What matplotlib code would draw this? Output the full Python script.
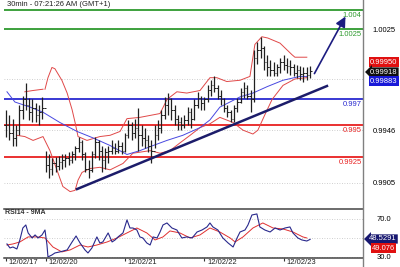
import matplotlib.pyplot as plt
import numpy as np
from matplotlib.lines import Line2D

plt.rcParams['font.family'] = ['Liberation Sans', 'DejaVu Sans']

# 30 min bars (one bar per hour of the original)
highs = [0.9962, 0.9958, 0.9955, 0.9950, 0.9966, 0.9973, 0.9983, 0.9971, 0.9970, 0.9967, 0.9966, 0.9972,
         0.9930, 0.9927, 0.9924, 0.9925, 0.9926, 0.9927, 0.9927, 0.9929, 0.9930, 0.9934, 0.9941, 0.9938,
         0.9929, 0.9923, 0.9930, 0.9941, 0.9938, 0.9934, 0.9932, 0.9934, 0.9938, 0.9936, 0.9938, 0.9937,
         0.9944, 0.9954, 0.9952, 0.9955, 0.9963, 0.9950, 0.9948, 0.9942, 0.9938, 0.9950,
         0.9954, 0.9962, 0.9972, 0.9975, 0.9971, 0.9966, 0.9958, 0.9956, 0.9958, 0.9964,
         0.9963, 0.9970, 0.9976,
         0.9973, 0.9972, 0.9981, 0.9985, 0.9988, 0.9981, 0.9977, 0.9971, 0.9966, 0.9962,
         0.9966, 0.9971, 0.9979, 0.9984, 0.9981, 0.9977, 1.0009, 1.0015, 1.0019, 1.0012,
         1.0005, 1.0001, 0.9999, 0.9998, 1.0002,
         1.0005, 1.0002, 1.0001, 0.9998, 0.9997, 0.9996, 0.9995, 0.9995, 0.9996]
lows = [0.9941, 0.9938, 0.9934, 0.9934, 0.9942, 0.9955, 0.9962, 0.9954, 0.9952, 0.9952, 0.9950, 0.9955,
        0.9913, 0.9909, 0.9911, 0.9913, 0.9915, 0.9916, 0.9917, 0.9919, 0.9920, 0.9923, 0.9929, 0.9923,
        0.9913, 0.9909, 0.9913, 0.9924, 0.9923, 0.9913, 0.9916, 0.9920, 0.9927, 0.9927, 0.9928, 0.9927,
        0.9929, 0.9940, 0.9938, 0.9940, 0.9930, 0.9934, 0.9932, 0.9929, 0.9920, 0.9932,
        0.9938, 0.9944, 0.9955, 0.9958, 0.9954, 0.9950, 0.9946, 0.9946, 0.9948, 0.9950,
        0.9948, 0.9954, 0.9963,
        0.9962, 0.9962, 0.9968, 0.9973, 0.9976, 0.9970, 0.9966, 0.9960, 0.9956, 0.9952,
        0.9952, 0.9960, 0.9967, 0.9971, 0.9970, 0.9960, 0.9968, 0.9998, 1.0002, 0.9993,
        0.9988, 0.9988, 0.9988, 0.9988, 0.9991,
        0.9993, 0.9991, 0.9989, 0.9988, 0.9987, 0.9985, 0.9984, 0.9985, 0.9987]
closes = [0.9950, 0.9944, 0.9940, 0.9946, 0.9962, 0.9970, 0.9966, 0.9960, 0.9963, 0.9958, 0.9960, 0.9963,
          0.9919, 0.9916, 0.9920, 0.9918, 0.9921, 0.9923, 0.9924, 0.9923, 0.9927, 0.9932, 0.9937, 0.9927,
          0.9916, 0.9915, 0.9927, 0.9937, 0.9930, 0.9923, 0.9929, 0.9930, 0.9932, 0.9930, 0.9934, 0.9930,
          0.9942, 0.9950, 0.9944, 0.9948, 0.9942, 0.9940, 0.9938, 0.9934, 0.9930, 0.9942,
          0.9948, 0.9958, 0.9966, 0.9970, 0.9962, 0.9955, 0.9952, 0.9950, 0.9954, 0.9960,
          0.9955, 0.9966, 0.9971,
          0.9967, 0.9970, 0.9977, 0.9981, 0.9979, 0.9973, 0.9970, 0.9963, 0.9960, 0.9955,
          0.9963, 0.9968, 0.9976, 0.9979, 0.9973, 0.9970, 1.0002, 1.0009, 1.0010, 0.9999,
          0.9995, 0.9993, 0.9991, 0.9995, 0.9999,
          0.9997, 0.9996, 0.9995, 0.9991, 0.9993, 0.9990, 0.9991, 0.9989, 0.9992]

# bollinger bands and moving average
bb_up_x = [11.8, 12.7, 13.9, 14.8, 16.9, 18.5, 20.0, 20.9, 21.8, 24.5, 28.4, 31.5, 34.5, 36.6, 40.5,
           46.6, 48.7, 51.7, 54.7, 58.7, 61.7, 63.8, 66.8, 70.8, 73.8, 75.3, 77.4, 79.2, 82.9, 86.5,
           87.4, 91.0]
bb_up = [0.9978, 0.9987, 0.9995, 0.9994, 0.9985, 0.9975, 0.9962, 0.9952, 0.9941, 0.9938, 0.9941,
         0.9942, 0.9945, 0.9955, 0.9956, 0.9959, 0.9970, 0.9976, 0.9975, 0.9977, 0.9987, 0.9987,
         0.9984, 0.9985, 0.9988, 1.0013, 1.0019, 1.0018, 1.0014, 1.0005, 1.0003, 1.0003]
bb_up0_x = [5.7, 8.2, 11.2]
bb_up0 = [0.9976, 0.9977, 0.9978]
bb_lo_x = [3.3, 5.7, 8.2, 11.2, 13.3, 15.4, 17.2, 19.4, 20.9, 21.8, 23.0, 25.4, 28.4, 31.5, 35.4,
           38.4, 43.6, 46.6, 49.6, 52.6, 55.7, 58.7, 61.7, 64.7, 68.7, 71.7, 74.7, 76.2, 78.3, 80.5,
           83.8, 87.4, 91.0]
bb_lo = [0.9942, 0.9941, 0.9938, 0.9941, 0.9930, 0.9915, 0.9902, 0.9898, 0.9899, 0.9907, 0.9913,
         0.9916, 0.9917, 0.9915, 0.9920, 0.9928, 0.9930, 0.9928, 0.9930, 0.9936, 0.9942, 0.9948,
         0.9951, 0.9956, 0.9952, 0.9946, 0.9943, 0.9946, 0.9958, 0.9970, 0.9981, 0.9986, 0.9987]
ma_x = [0.3, 2.7, 7.3, 11.2, 16.3, 21.5, 26.3, 31.5, 36.6, 40.5, 44.5, 48.7, 53.5, 58.7, 61.7,
        64.7, 70.8, 74.7, 79.0, 83.8, 88.9, 91.0]
ma = [0.9976, 0.9968, 0.9964, 0.9960, 0.9952, 0.9945, 0.9940, 0.9934, 0.9927, 0.9930, 0.9934,
      0.9938, 0.9942, 0.9948, 0.9954, 0.9964, 0.9972, 0.9975, 0.9980, 0.9985, 0.9988, 0.9988]

# rsi 14 and its 9 period average
rsi_x = [0.3, 1.2, 2.1, 3.3, 4.2, 5.1, 6.0, 6.7, 7.9, 8.8, 9.7, 10.9, 11.8, 12.4, 12.7, 13.9, 14.8,
         16.3, 18.5, 20.0, 21.2, 22.4, 23.9, 24.8, 26.0, 27.5, 28.4, 29.3, 30.9, 32.1, 33.0, 33.9,
         35.4, 36.6, 37.5, 38.4, 39.6, 40.5, 41.4, 42.6, 43.6, 44.5, 45.7, 46.6, 47.5, 48.7, 50.2,
         51.7, 53.2, 54.7, 56.3, 57.8, 59.3, 60.8, 61.7, 62.6, 64.1, 65.6, 67.2, 68.7, 69.9, 70.8,
         72.3, 73.2, 74.4, 75.9, 76.8, 78.3, 79.9, 81.4, 82.9, 84.4, 85.9, 86.8, 88.3, 89.5, 91.0, 92.0]
rsi = [43.7, 39.5, 40.5, 38.4, 47.9, 60.5, 63.7, 55.3, 50.0, 53.2, 50.0, 53.2, 58.4, 42.6, 30.0,
       32.1, 34.2, 35.3, 37.4, 45.8, 52.1, 44.7, 37.4, 34.2, 39.5, 51.1, 44.7, 45.8, 55.3, 45.8,
       47.9, 51.1, 55.3, 69.0, 60.5, 60.5, 58.4, 51.1, 50.0, 44.7, 42.6, 51.1, 50.0, 56.3, 63.7,
       65.8, 60.5, 58.4, 50.0, 51.1, 50.0, 56.3, 58.4, 61.6, 65.8, 61.6, 58.4, 50.0, 44.7, 40.5,
       50.0, 56.3, 58.4, 63.7, 74.2, 75.3, 61.6, 58.4, 56.3, 60.5, 58.4, 60.5, 61.6, 55.3, 50.0,
       47.9, 46.8, 48.5]
rsi_ma_x = [0.3, 2.1, 4.2, 6.7, 9.4, 11.8, 14.2, 16.9, 19.4, 22.4, 24.8, 27.5, 30.6, 33.6, 36.6,
            39.6, 42.6, 45.1, 47.5, 49.6, 52.6, 55.7, 58.7, 61.7, 64.7, 67.8, 69.3, 71.7, 74.7,
            77.7, 80.8, 83.8, 86.8, 89.8, 91.0]
rsi_ma = [42.6, 43.7, 45.8, 51.1, 51.1, 50.0, 40.5, 35.3, 37.4, 42.6, 40.5, 42.6, 45.8, 50.0, 55.3,
          60.5, 55.3, 47.9, 51.1, 57.4, 55.3, 50.0, 53.2, 60.5, 56.3, 50.0, 45.8, 51.1, 60.5, 65.8,
          60.5, 59.5, 56.3, 51.1, 50.0]

levels = [1.004, 1.0025, 0.997, 0.995, 0.9925]
level_labels = ['1.004', '1.0025', '0.997', '0.995', '0.9925']
level_colors = ['#2e9a2e', '#2e9a2e', '#2a2ad0', '#e82020', '#e82020']

price_ticks = [1.0025, 0.9986, 0.9946, 0.9905]
price_tick_labels = ['1.0025', '', '0.9946', '0.9905']
day_pos = [0, 12, 36, 60, 84]
day_labels = ['12/02/17', '12/02/20', '12/02/21', '12/02/22', '12/02/23']

fig = plt.figure(figsize=(4, 2.67), dpi=100)
ax = fig.add_axes([0.01, 0.221, 0.8975, 0.779])
ax2 = fig.add_axes([0.01, 0.0337, 0.8975, 0.1835])

xmin, xmax = -0.6, 108.0
for a in (ax, ax2):
    a.set_xlim(xmin, xmax)
    for s in a.spines.values():
        s.set_visible(False)
ax.set_ylim(0.98852, 1.00477)
ax2.set_ylim(28.9, 80.5)

# grid
for t in price_ticks:
    ax.axhline(t, color='#c0c0c0', lw=0.6, ls=(0, (1, 2)), zorder=0)
for t in [70, 50, 30]:
    ax2.axhline(t, color='#c0c0c0', lw=0.6, ls=(0, (1, 2)), zorder=0)

# level lines
for lv, lb, c in zip(levels, level_labels, level_colors):
    ax.axhline(lv, color=c, lw=1.3, zorder=1)
    ax.annotate(lb, (107.6, lv), xytext=(0, -1.2), textcoords='offset points',
                ha='right', va='top', fontsize=5.5, color=c)

# bands and average
ax.plot(bb_up0_x, bb_up0, color='#e04848', lw=0.7, zorder=2)
ax.plot(bb_up_x, bb_up, color='#e04848', lw=0.7, zorder=2)
ax.plot(bb_lo_x, bb_lo, color='#e04848', lw=0.7, zorder=2)
ax.plot(ma_x, ma, color='#4848e0', lw=0.7, zorder=2)

# ohlc bars
x = np.arange(len(closes))
opens = [closes[0]] + closes[:-1]
ax.vlines(x, lows, highs, color='#202020', lw=0.9, zorder=3)
ax.hlines(opens, x - 0.45, x, color='#202020', lw=0.7, zorder=3)
ax.hlines(closes, x, x + 0.45, color='#202020', lw=0.7, zorder=3)

# trend line and arrow
ax.plot([21.5, 97.1], [0.9900, 0.99805], color='#1c1c6a', lw=1.8, zorder=4)
ax.annotate('', xy=(103.1, 1.00367), xytext=(92.9, 0.99883),
            arrowprops=dict(arrowstyle='-|>,head_length=0.6,head_width=0.3',
                            color='#1c1c80', lw=1.2), zorder=4)

ax.yaxis.tick_right()
ax.set_yticks(price_ticks)
ax.set_yticklabels(price_tick_labels)
ax.tick_params(axis='y', length=0, pad=7, labelsize=5.5)
ax.set_xticks([])

# rsi panel
ax2.plot(rsi_ma_x, rsi_ma, color='#e03030', lw=0.7)
ax2.plot(rsi_x, rsi, color='#28288c', lw=0.8)
ax2.spines['top'].set_visible(True)
ax2.spines['bottom'].set_visible(True)
ax2.spines['top'].set_color('#444444')
ax2.spines['bottom'].set_color('#444444')
ax2.spines['top'].set_linewidth(1.1)
ax2.spines['bottom'].set_linewidth(1.1)
ax2.yaxis.tick_right()
ax2.set_yticks([70, 50, 30])
ax2.set_yticklabels(['70.0', '', '30.0'])
ax2.tick_params(axis='y', length=0, pad=10, labelsize=5.5)
ax2.set_xticks(day_pos)
ax2.set_xticklabels([])
ax2.tick_params(axis='x', direction='out', length=2.5, width=0.8, color='#333333')
for p, d in zip(day_pos, day_labels):
    ax2.annotate(d, (p, 0), xycoords=ax2.get_xaxis_transform(), xytext=(2, -1),
                 textcoords='offset points', ha='left', va='top', fontsize=5.5, color='#222222')

# right hand line and value boxes
fig.add_artist(Line2D([363 / 400, 363 / 400], [0, 1], color='#808080', lw=1.0))
fig.text(7 / 400, 1 - 5 / 267, '30min - 07:21:26 AM (GMT+1)', fontsize=5.5, va='center', color='#222222')
fig.text(5 / 400, 1 - 213 / 267, 'RSI14 - 9MA', fontsize=5, va='center', color='#333333', weight='bold')

fig.text(370 / 400, 1 - 62 / 267, '0.99950', fontsize=5.5, color='white', va='center',
         bbox=dict(boxstyle='square,pad=0.15', fc='#e01010', ec='none'))
fig.text(370 / 400, 1 - 72 / 267, '0.99918', fontsize=5.5, color='white', va='center',
         bbox=dict(boxstyle='larrow,pad=0.15', fc='#101010', ec='none'))
fig.text(370 / 400, 1 - 81 / 267, '0.99883', fontsize=5.5, color='white', va='center',
         bbox=dict(boxstyle='square,pad=0.15', fc='#1818d8', ec='none'))
fig.text(369 / 400, 1 - 239 / 267, '48.5291', fontsize=5.5, color='white', va='center',
         bbox=dict(boxstyle='larrow,pad=0.15', fc='#181870', ec='none'))
fig.text(372 / 400, 1 - 248 / 267, '49.076', fontsize=5.5, color='white', va='center',
         bbox=dict(boxstyle='square,pad=0.15', fc='#e01010', ec='none'))

fig.savefig('out.png', dpi=100)
